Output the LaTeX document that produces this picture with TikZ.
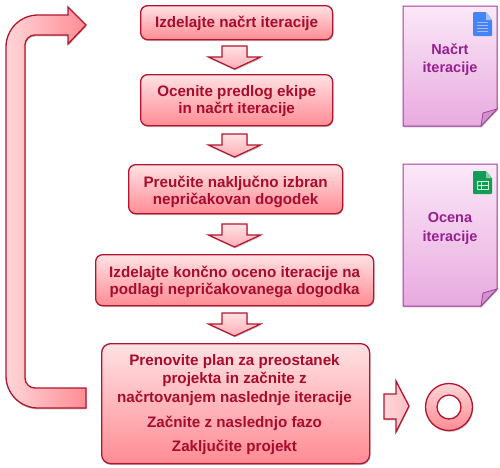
\documentclass[tikz,border=0pt]{standalone}
\usepackage{fontspec}
\setmainfont{Liberation Sans}
\usetikzlibrary{shadows,calc}
\definecolor{edgered}{HTML}{B5142F}
\definecolor{txtred}{HTML}{A80C2C}
\definecolor{lightred}{HTML}{FFE2E4}
\definecolor{sidered}{HTML}{FFD6D8}
\definecolor{midred}{HTML}{FF8C94}
\definecolor{edgepur}{HTML}{A63E9E}
\definecolor{txtpur}{HTML}{96208E}
\definecolor{lightpur}{HTML}{FBE8F8}
\definecolor{midpur}{HTML}{E8AADF}
\tikzset{
  softshadow/.style={drop shadow={shadow xshift=0.6pt,shadow yshift=-1.4pt,opacity=0.25,fill=black}},
  steptext/.style={text=txtred,font=\bfseries\fontsize{15.2}{17.5}\selectfont,align=center,inner sep=0pt},
  plantext/.style={steptext,font=\bfseries\fontsize{15.2}{18.5}\selectfont},
  stepbox/.style={draw=edgered,line width=1.3pt,rounded corners=7pt,top color=lightred,bottom color=midred,
    steptext,softshadow,anchor=north west},
  blockdown/.style={draw=edgered,line width=1.2pt,line join=miter,top color=lightred,bottom color=midred!70!white,softshadow},
  blockside/.style={draw=edgered,line width=1.3pt,line join=miter,left color=sidered,right color=midred,softshadow},
  docshape/.style={draw=edgepur,line width=1pt,top color=lightpur,bottom color=midpur,softshadow},
  docfold/.style={draw=edgepur,line width=0.8pt,fill=edgepur!55!white},
  doclabel/.style={text=txtpur,font=\bfseries\fontsize{14.5}{18.5}\selectfont,align=center,inner sep=0pt},
}
\newcommand{\boxnode}[7]{% name, x1, y1, x2, y2, first-line height, text
  \node[stepbox,minimum width=#4-#2,minimum height=#5-#3] (#1) at (#2,#3) {\rule{0pt}{#6pt}#7};}
\begin{document}
\begin{tikzpicture}[x=1pt,y=-1pt]
\useasboundingbox (0,0) rectangle (500,467);
\fill[white] (0,0) rectangle (500,467);

% loop arrow
\path[blockside]
  (86,388) -- (35,388) .. controls (29.5,388) and (25,383.5) .. (25,378) -- (25,45)
  .. controls (25,39.5) and (29.5,35) .. (35,35)
  -- (68,35) -- (68,44) -- (86,25) -- (68,7) -- (68,15) -- (38,15)
  .. controls (20.3,15) and (6,29.3) .. (6,47)
  -- (6,376) .. controls (6,393.7) and (20.3,408) .. (38,408) -- (86,408) -- cycle;

% step boxes
\boxnode{s1}{140}{5}{332}{39}{13.2}{Izdelajte načrt iteracije}
\boxnode{s2}{140}{74}{332}{125}{13.2}{Ocenite predlog ekipe\\in načrt iteracije}
\boxnode{s3}{128}{164}{342}{213}{17}{Preučite naključno izbran\\nepričakovan dogodek}
\boxnode{s4}{95}{254}{373}{305}{15}{Izdelajte končno oceno iteracije na\\podlagi nepričakovanega dogodka}
\node[stepbox,minimum width=268,minimum height=120,rounded corners=9pt] (s5) at (101,343) {};
\node[plantext] (t1) at (234.5,379.6) {Prenovite plan za preostanek\\projekta in začnite z\\načrtovanjem naslednje iteracije};
\node[plantext,anchor=base] (t2) at (234.5,427) {Začnite z naslednjo fazo};
\node[plantext,anchor=base] (t3) at (234.5,451) {Zaključite projekt};

% block arrows between the steps
\foreach \yy in {46,134,224,313}{
  \path[blockdown] (222,\yy) -- (247,\yy) -- (247,\yy+11) -- (260.5,\yy+11) -- (234.5,\yy+23)
    -- (208.5,\yy+11) -- (222,\yy+11) -- cycle;
}
% arrow to finish
\path[blockside,left color=sidered,right color=sidered!70!midred]
  (384,394) -- (396,394) -- (396,381) -- (409,406) -- (396,432) -- (396,419) -- (384,419) -- cycle;
% finish ring
\path[draw=edgered,line width=1.3pt,top color=sidered,bottom color=midred,softshadow]
  (449,407) circle[radius=23.5];
\path[draw=edgered,line width=1.3pt,fill=white] (449,407) circle[radius=12];

% documents
\foreach \ya/\yb in {6/126,164/306}{
  \path[docshape] (403,\ya) -- (497,\ya) -- (497,\yb-17) -- (481,\yb) -- (403,\yb) -- cycle;
  \path[docfold] (497,\yb-17) -- (481,\yb) -- (483,\yb-13) -- cycle;
}
\node[doclabel] (d1) at (450,59.5) {Načrt\\iteracije};
\node[doclabel] (d2) at (450,228.5) {Ocena\\iteracije};

% Docs icon
\fill[rounded corners=1pt,fill={rgb,255:red,66;green,133;blue,244}]
  (473,12) -- (486,12) -- (492,20) -- (492,36) -- (473,36) -- cycle;
\fill[fill={rgb,255:red,161;green,194;blue,250}] (486,12) -- (492,20) -- (486,20) -- cycle;
\foreach \yy in {22,25,28,31}{\fill[white!70!blue] (477,\yy) rectangle (488,\yy+1);}
% Sheets icon
\fill[rounded corners=1pt,fill={rgb,255:red,15;green,157;blue,88}]
  (473,171) -- (486,171) -- (492,178) -- (492,194) -- (473,194) -- cycle;
\fill[fill={rgb,255:red,135;green,206;blue,172}] (486,171) -- (492,178) -- (486,178) -- cycle;
\draw[green!20!white,line width=0.9pt] (477,181) rectangle (488,189) (477,185) -- (488,185) (481,181) -- (481,189);
\end{tikzpicture}
\end{document}
